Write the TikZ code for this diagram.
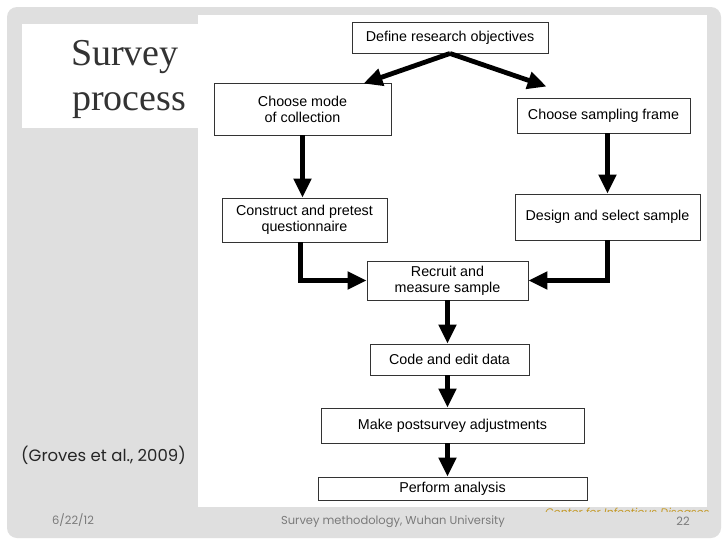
\documentclass[tikz,border=0pt]{standalone}
\usepackage{fontspec}
\setmainfont{Liberation Serif}
\newfontfamily\arialf{Liberation Sans}
\newfontfamily\gothf{Poppins}
\usetikzlibrary{arrows.meta,calc}
\definecolor{slidegray}{HTML}{DFDFDF}
\definecolor{footgray}{HTML}{7A7A7A}
\definecolor{gold}{HTML}{C49A2A}
\begin{document}
\begin{tikzpicture}[x=1pt,y=-1pt,
  box/.style={draw=black!80,line width=0.9pt,fill=white,inner sep=2pt,align=center,
    font=\arialf\fontsize{14.3}{16}\selectfont},
  arr/.style={line width=4.8pt,-{Triangle[length=19pt,width=17pt]}},
  foot/.style={font=\gothf\fontsize{11.5}{13}\selectfont,text=footgray,anchor=base}]
\useasboundingbox (0,0) rectangle (728,546);
\fill[white] (0,0) rectangle (728,546);
\fill[slidegray,rounded corners=10pt] (7,7) rectangle (721,538);
\fill[white] (22,24) rectangle (198,128);
\fill[white] (198,15) rectangle (707,507);
% title
\node[anchor=base west,text=black!80,font=\fontsize{38}{40}\selectfont,inner sep=0] (t1) at (71,65) {Survey};
\node[anchor=base west,text=black!80,font=\fontsize{38}{40}\selectfont,inner sep=0] (t2) at (72,110) {process};
\node[anchor=base west,font=\gothf\fontsize{16.5}{18}\selectfont,text=black!85,inner sep=0] (ref) at (21,461) {(Groves et al., 2009)};
% nodes
\node[box,minimum width=196pt,minimum height=31pt] (define) at (450,37.5) {Define research objectives};
\node[box,minimum width=177pt,minimum height=52pt] (mode) at (302.5,109) {Choose mode\\of collection};
\node[box,minimum width=173pt,minimum height=35pt] (frame) at (603.5,115.5) {Choose sampling frame};
\node[box,minimum width=165pt,minimum height=44pt] (construct) at (304.5,220) {Construct and pretest\\questionnaire};
\node[box,minimum width=185pt,minimum height=46pt] (design) at (607.5,217) {Design and select sample};
\node[box,minimum width=161pt,minimum height=39pt] (recruit) at (447.5,280.5) {Recruit and\\measure sample};
\node[box,minimum width=159pt,minimum height=31pt] (code) at (449.5,359.5) {Code and edit data};
\node[box,minimum width=263pt,minimum height=35pt] (make) at (452.5,425.5) {Make postsurvey adjustments};
\node[box,minimum width=269pt,minimum height=23pt] (perform) at (452.5,488.5) {Perform analysis};
% arrows
\draw[arr] (define.south) -- ($(mode.north east)+(-28,1)$);
\draw[arr] (define.south) -- ($(frame.north west)+(30,-11)$);
\draw[arr] (mode.south) -- (mode.south |- construct.north);
\draw[arr] (design.north |- frame.south) -- (design.north);
\draw[arr] ($(construct.south)+(-4,0)$) |- (recruit.west);
\draw[arr] (design.south) |- (recruit.east);
\draw[arr] (recruit.south) -- (recruit.south |- code.north);
\draw[arr] (recruit.south |- code.south) -- (recruit.south |- make.north);
\draw[arr] (recruit.south |- make.south) -- (recruit.south |- perform.north);
% clipped source note
\begin{scope}
\clip (540,495) rectangle (713,511);
\node[anchor=base west,font=\gothf\itshape\fontsize{11}{13}\selectfont,text=gold,inner sep=0] (center) at (545,516) {\smash{Center for Infectious Diseases}};
\end{scope}
% footer
\node[foot] (date) at (73,524) {6/22/12};
\node[foot] (title) at (393,524) {Survey methodology, Wuhan University};
\node[foot] (page) at (683,525) {22};
\end{tikzpicture}
\end{document}
